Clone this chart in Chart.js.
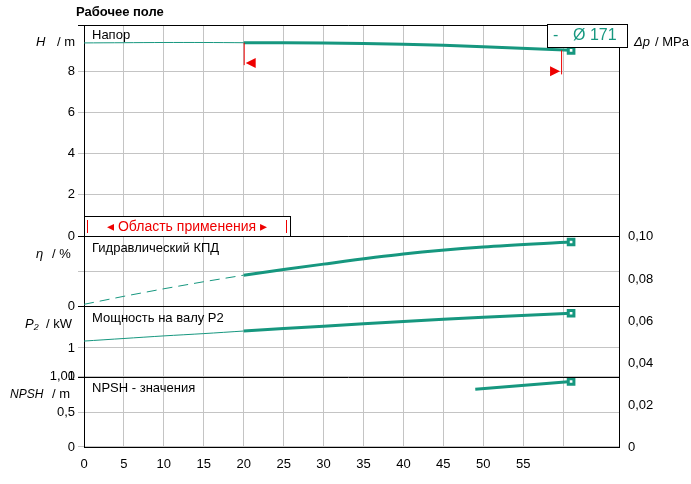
<!DOCTYPE html>
<html><head><meta charset="utf-8">
<script src="https://cdn.jsdelivr.net/npm/chart.js@4"></script>
<style>body{margin:0;background:#fff}#wrap{position:relative;width:691px;height:484px}</style>
</head><body><div id="wrap"><canvas id="c" width="691" height="484"></canvas></div>
<script>
const teal = '#16977f';
const qThin = [0, 5, 10, 15, 20];
const qThick = [20, 30, 40, 50, 61];
const hThin = [9.38, 9.39, 9.4, 9.4, 9.39];
const hThick = [9.39, 9.38, 9.32, 9.19, 9.02];
const etaThin = [2, 10, 17.5, 24.5, 31];
const etaThick = [31, 42, 52, 59, 64];
const pThin = [1.24, 1.33, 1.42, 1.5, 1.59];
const pThick = [1.59, 1.76, 1.92, 2.07, 2.21];
const qNpsh = [49, 61];
const npsh = [0.83, 0.94];
const xLabels = [0, 5, 10, 15, 20, 25, 30, 35, 40, 45, 50, 55];

const pts = (xs, ys) => xs.map((x, i) => ({x, y: ys[i]}));
const endMark = n => Array.from({length: n}, (_, i) => i === n - 1 ? 4 : 0);
function ds(data, axis, thick, extra) {
  return Object.assign({data: pts(...data), yAxisID: axis, borderColor: teal, backgroundColor: '#fff',
    borderWidth: thick ? 3 : 1, pointRadius: 0, pointStyle: 'rect', pointBorderWidth: 3, tension: 0.3}, extra || {});
}
const gridC = '#c4c4c4';
const fitW = w => s => { s.width = w; };
const baseY = (w, min, max, step, show) => ({type: 'linear', position: 'left', stack: 'L', stackWeight: w, min, max,
  afterFit: fitW(84),
  border: {color: '#000', width: 1}, grid: {color: gridC, tickLength: 6},
  ticks: {stepSize: step, color: '#000', font: {size: 13, family: 'Liberation Sans'}, padding: 3,
    callback: v => show(v) ? String(v).replace('.', ',') : ''}});
const dummyR = w => ({type: 'linear', position: 'right', stack: 'R', stackWeight: w, min: 0, max: 1,
  afterFit: fitW(72), border: {color: '#000'}, grid: {display: false}, ticks: {display: false}});

const deco = {
  id: 'deco',
  afterDraw(c) {
    const g = c.ctx, x = c.scales.x, s = c.scales;
    const L = x.left, R = x.right;
    g.save();
    g.font = 'bold 13px Liberation Sans'; g.fillStyle = '#000'; g.textBaseline = 'middle';
    g.fillText('Рабочее поле', 76, 12);
    g.strokeStyle = '#000'; g.lineWidth = 1;
    [s.yH.top, s.yH.bottom, s.yE.bottom, s.yP.bottom].forEach(y => { g.beginPath(); g.moveTo(L - 6, Math.round(y) + .5); g.lineTo(R, Math.round(y) + .5); g.stroke(); });
    g.font = '13px Liberation Sans';
    g.fillText('Напор', L + 8, s.yH.top + 10);
    g.fillText('Гидравлический КПД', L + 8, s.yE.top + 12);
    g.fillText('Мощность на валу P2', L + 8, s.yP.top + 12);
    g.fillText('NPSH - значения', L + 8, s.yN.top + 12);
    const ttl = (t, tx, u, ux, y) => {
      g.font = 'italic 13px Liberation Sans'; g.fillText(t, tx, y);
      g.font = '13px Liberation Sans'; g.fillText(u, ux, y); };
    ttl('H', 36, '/ m', 57, s.yH.top + 17);
    ttl('η', 36, '/ %', 52, s.yE.top + 18);
    ttl('P₂', 25, '/ kW', 46, s.yP.top + 18);
    g.font = 'italic 12px Liberation Sans'; g.fillText('NPSH', 10, s.yN.top + 18);
    g.font = '13px Liberation Sans'; g.fillText('/ m', 52, s.yN.top + 18);
    ttl('Δp', 634, '/ MPa', 655, s.yH.top + 17);
    ttl('Q', 570, '/ m³/h', 583, x.bottom + 22);
    // red markers
    g.strokeStyle = '#e00'; g.fillStyle = '#e00';
    const x20 = x.getPixelForValue(20), x61 = x.getPixelForValue(61);
    g.beginPath(); g.moveTo(x20 + .5, s.yH.getPixelForValue(9.39)); g.lineTo(x20 + .5, s.yH.getPixelForValue(8.3)); g.stroke();
    const y1 = s.yH.getPixelForValue(8.4);
    g.beginPath(); g.moveTo(x20 + 2, y1); g.lineTo(x20 + 12, y1 - 5); g.lineTo(x20 + 12, y1 + 5); g.fill();
    g.beginPath(); g.moveTo(x61 - 9.5, s.yH.getPixelForValue(9.02)); g.lineTo(x61 - 9.5, s.yH.getPixelForValue(7.85)); g.stroke();
    const y2 = s.yH.getPixelForValue(8.0);
    g.beginPath(); g.moveTo(x61 - 11, y2); g.lineTo(x61 - 21, y2 - 5); g.lineTo(x61 - 21, y2 + 5); g.fill();
    const bx2 = x.getPixelForValue(25.8), bt = s.yH.bottom - 20;
    g.fillStyle = '#fff'; g.fillRect(L, bt, bx2 - L, 20);
    g.strokeStyle = '#000'; g.strokeRect(L + .5, bt + .5, bx2 - L, 20);
    g.strokeStyle = '#e00'; g.beginPath(); g.moveTo(L + 3.5, bt + 4); g.lineTo(L + 3.5, bt + 17); g.moveTo(bx2 - 3.5, bt + 4); g.lineTo(bx2 - 3.5, bt + 17); g.stroke();
    g.fillStyle = '#e00'; g.font = '14px Liberation Sans'; g.textAlign = 'center';
    g.fillText('◂ Область применения ▸', (L + bx2) / 2, bt + 11);
    g.textAlign = 'left';
    g.fillStyle = '#fff'; g.fillRect(547, 24, 80, 23);
    g.strokeStyle = '#000'; g.strokeRect(547.5, 24.5, 80, 23);
    g.fillStyle = teal; g.font = '16px Liberation Sans';
    g.fillText('-', 553, 36); g.fillText('Ø 171', 573, 36);
    g.restore();
  }
};

new Chart(document.getElementById('c'), {
  type: 'line',
  data: {datasets: [
    ds([qThin, hThin], 'yH', false),
    ds([qThick, hThick], 'yH', true, {pointRadius: endMark(5)}),
    ds([qThin, etaThin], 'yE', false, {borderDash: [10, 6], tension: 0}),
    ds([qThick, etaThick], 'yE', true, {pointRadius: endMark(5)}),
    ds([qThin, pThin], 'yP', false),
    ds([qThick, pThick], 'yP', true, {pointRadius: endMark(5)}),
    ds([qNpsh, npsh], 'yN', true, {pointRadius: endMark(2), tension: 0})
  ]},
  options: {
    responsive: false, animation: false, devicePixelRatio: 1,
    layout: {padding: {left: 0, top: 25, right: 0, bottom: 0}},
    plugins: {legend: {display: false}, tooltip: {enabled: false}},
    scales: {
      x: {type: 'linear', min: 0, max: 67, border: {color: '#000'}, afterFit: s => { s.height = 37; },
        grid: {color: gridC, tickLength: 0},
        ticks: {stepSize: 5, color: '#000', font: {size: 13, family: 'Liberation Sans'}, padding: 10,
          callback: v => xLabels.includes(v) ? String(v) : ''}},
      yN: baseY(1, 0, 1.01, 0.5, v => true),
      yP: baseY(1, 0, 2.45, 0.5, v => v === 0 || v === 1),
      yE: baseY(1, 0, 70, 35, v => v === 0),
      yH: baseY(3, 0, 10.25, 1, v => v % 2 === 0),
      rN: dummyR(1), rP: dummyR(1), rE: dummyR(1),
      rH: {type: 'linear', position: 'right', stack: 'R', stackWeight: 3, min: 0, max: 10.25 * 0.00981,
        afterFit: fitW(72), border: {color: '#000'}, grid: {display: false, tickLength: 6},
        ticks: {stepSize: 0.01, color: '#000', font: {size: 13, family: 'Liberation Sans'},
          callback: v => Math.round(v * 100) % 2 === 0 ? (Math.round(v * 100) === 0 ? '0' : v.toFixed(2).replace('.', ',')) : ''}}
    }
  },
  plugins: [deco]
});
</script>
</body></html>
